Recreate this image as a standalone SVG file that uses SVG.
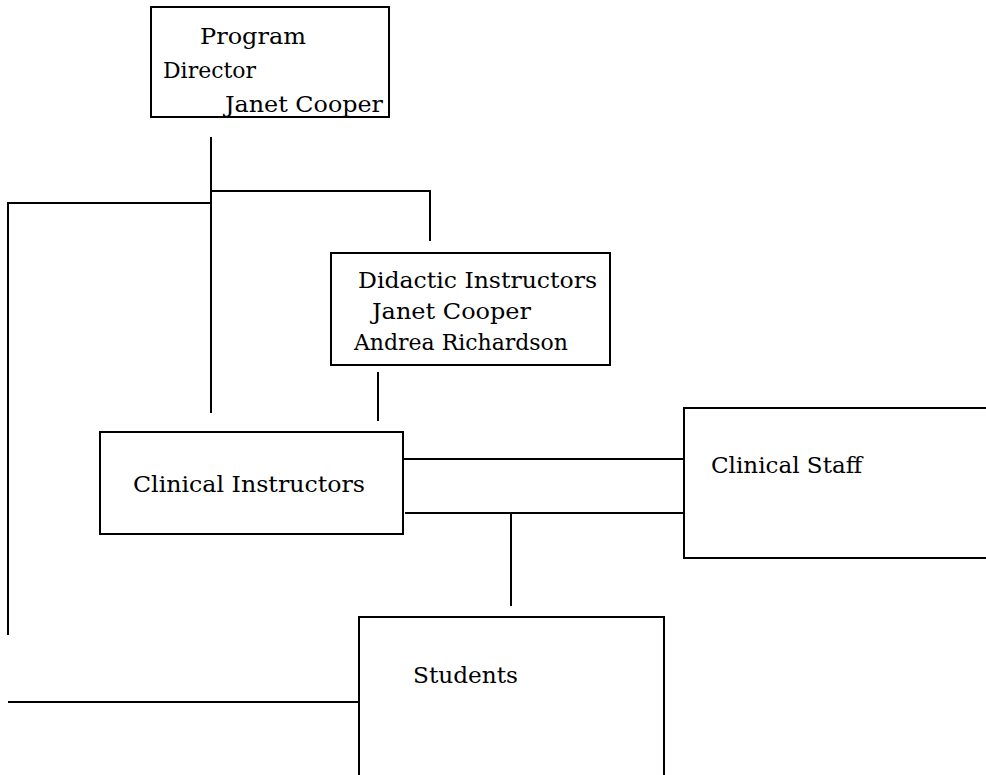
<svg xmlns="http://www.w3.org/2000/svg" width="986" height="775" viewBox="0 0 986 775">
<style>
.box{fill:#fff;stroke:#000;stroke-width:2}
.ln{fill:none;stroke:#000;stroke-width:2}
text{font-family:"DejaVu Serif","Liberation Serif",serif;font-size:21.5px;fill:#000}
</style>
<defs>
<clipPath id="clipPD"><rect x="151" y="7" width="238" height="110"/></clipPath>
</defs>
<rect width="986" height="775" fill="#fff"/>
<g id="connectors">
<path class="ln" d="M211 137V413"/>
<path class="ln" d="M211 191H430V241"/>
<path class="ln" d="M211 203H8V635"/>
<path class="ln" d="M378 372V421"/>
<path class="ln" d="M403 459H684"/>
<path class="ln" d="M405 513H684"/>
<path class="ln" d="M511 513V606"/>
<path class="ln" d="M8 702H359"/>
</g>
<g id="program-director">
<rect class="box" x="151" y="7" width="238" height="110"/>
<g clip-path="url(#clipPD)">
<text x="200" y="44" textLength="106" lengthAdjust="spacingAndGlyphs">Program</text>
<text x="163" y="78" textLength="93" lengthAdjust="spacingAndGlyphs">Director</text>
<text x="225" y="112" textLength="158" lengthAdjust="spacingAndGlyphs">Janet Cooper</text>
</g>
</g>
<g id="didactic-instructors">
<rect class="box" x="331" y="253" width="279" height="112"/>
<text x="358" y="288" textLength="239" lengthAdjust="spacingAndGlyphs">Didactic Instructors</text>
<text x="372" y="319" textLength="159" lengthAdjust="spacingAndGlyphs">Janet Cooper</text>
<text x="354" y="350" textLength="214" lengthAdjust="spacingAndGlyphs">Andrea Richardson</text>
</g>
<g id="clinical-instructors">
<rect class="box" x="100" y="432" width="303" height="102"/>
<text x="133" y="492" textLength="232" lengthAdjust="spacingAndGlyphs">Clinical Instructors</text>
</g>
<g id="clinical-staff">
<rect class="box" x="684" y="408" width="320" height="150"/>
<text x="711" y="473" textLength="151" lengthAdjust="spacingAndGlyphs">Clinical Staff</text>
</g>
<g id="students">
<rect class="box" x="359" y="617" width="305" height="180"/>
<text x="413" y="683" textLength="105" lengthAdjust="spacingAndGlyphs">Students</text>
</g>
</svg>
